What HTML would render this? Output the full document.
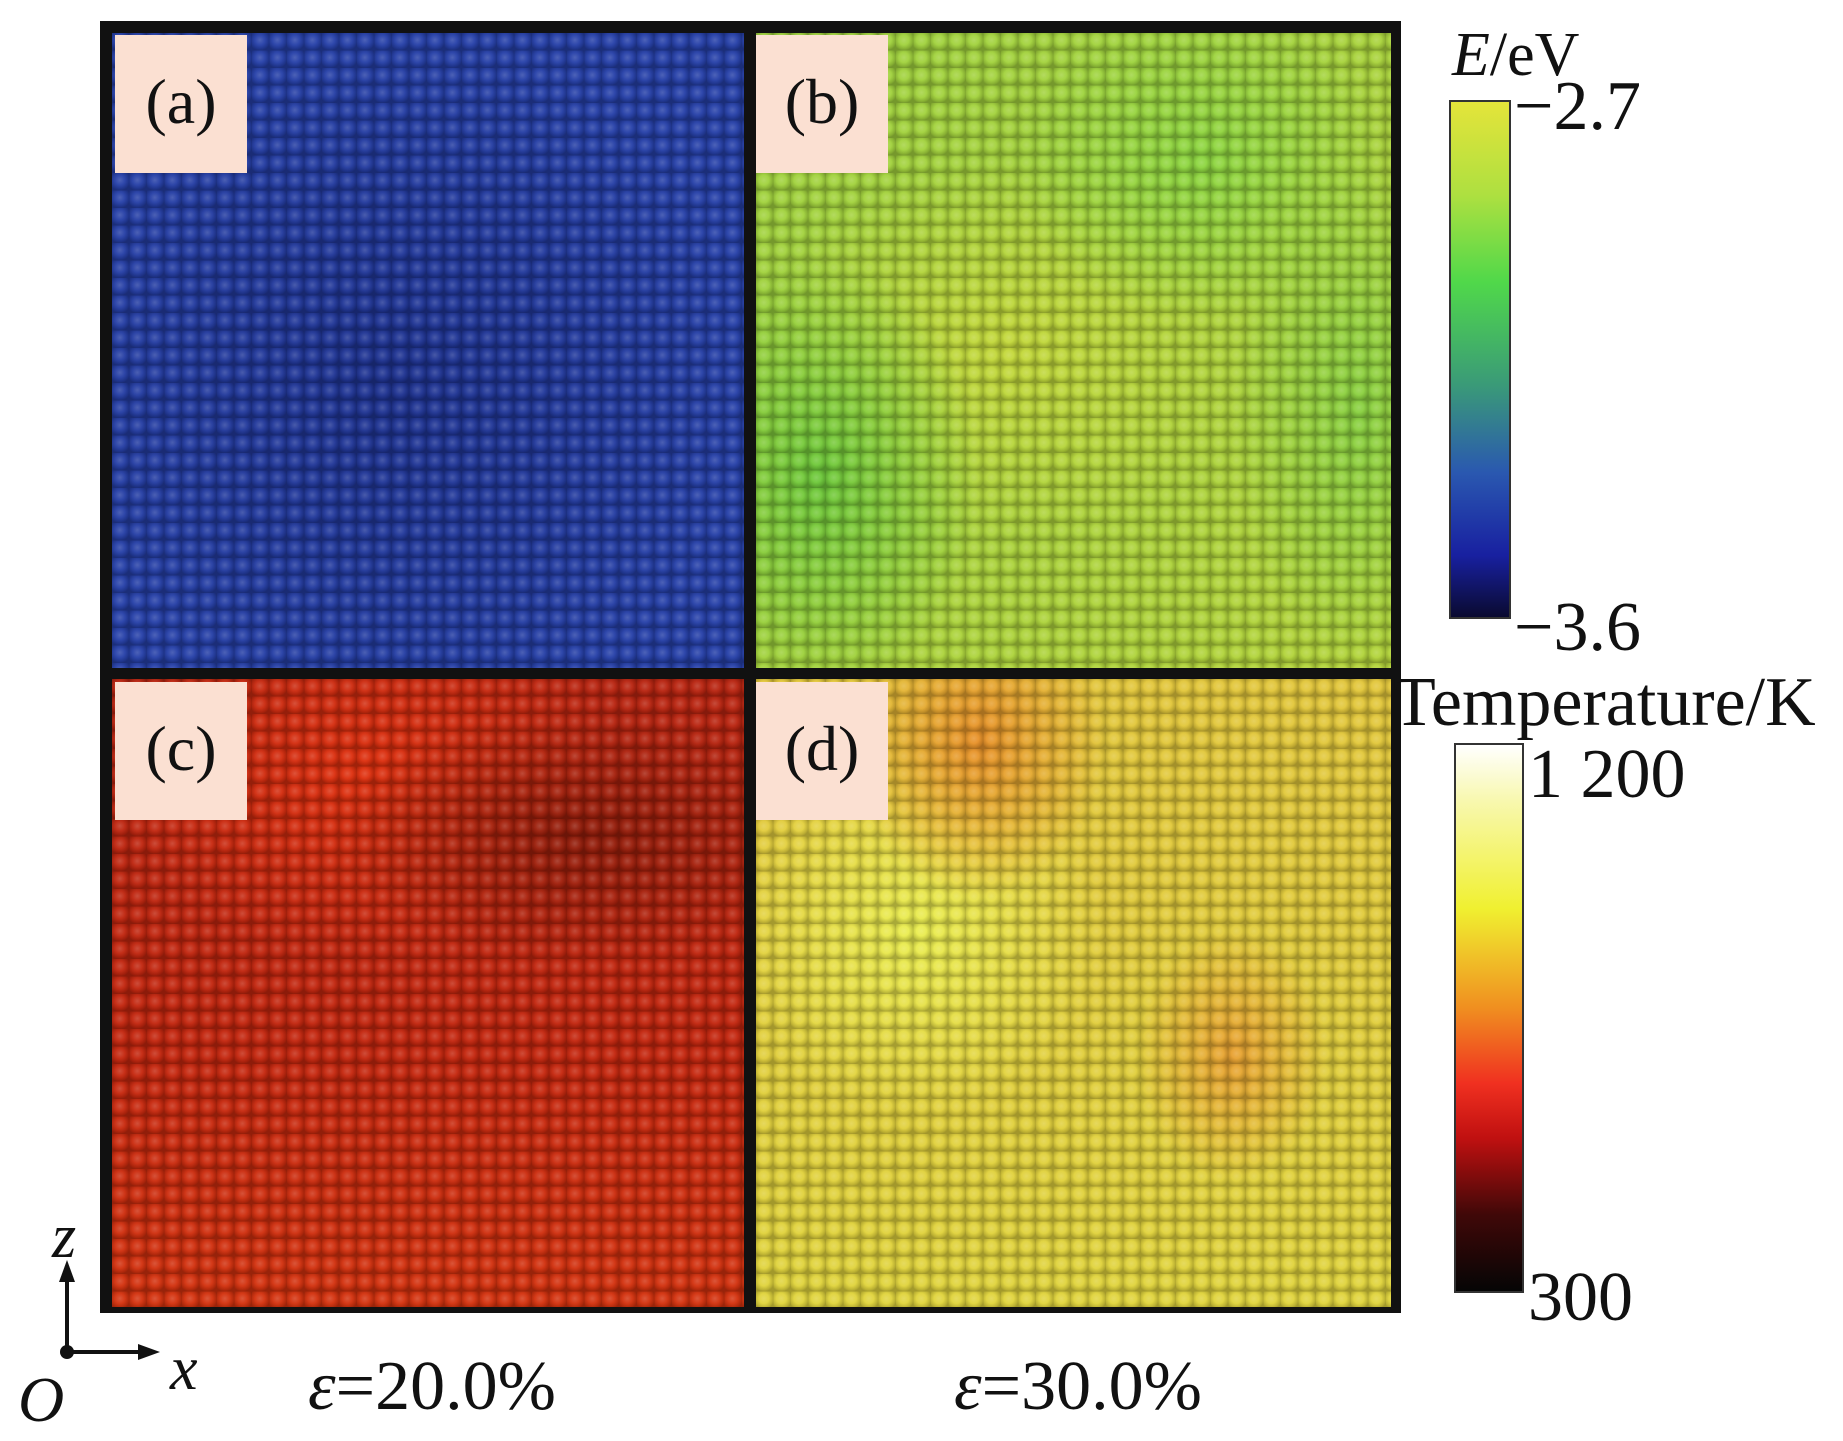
<!DOCTYPE html>
<html><head><meta charset="utf-8"><style>
body{margin:0;width:1843px;height:1441px;background:#fff;position:relative;overflow:hidden;font-family:"Liberation Serif",serif;}
.a{position:absolute}
.frame{left:100px;top:21px;width:1301px;height:1292px;background:#111;}
.p{position:absolute;overflow:hidden}
.tex{position:absolute;inset:0;background-image:radial-gradient(circle at 45% 40%,rgba(255,255,255,0.18) 0,rgba(255,255,255,0.04) 35%,rgba(0,0,0,0.16) 62%,rgba(0,0,0,0.28) 75%);background-size:17.5px 17.5px;}
.lab{position:absolute;background:#fbe0d2;width:132px;height:138px;font-size:64px;line-height:134px;text-align:center;color:#111;}
.t{position:absolute;font-size:70px;color:#111;white-space:nowrap;line-height:1}
</style></head><body>
<div class="a frame"></div>
<div class="p" style="left:112px;top:33px;width:632px;height:635px;background:radial-gradient(ellipse at 45% 55%,#1e3290,#2640a8 70%),#2440a4;"><div class="tex"></div></div>
<div class="p" style="left:756px;top:33px;width:635px;height:635px;background:radial-gradient(ellipse 25% 35% at 10% 70%,#6cc83a,transparent),radial-gradient(ellipse 30% 25% at 70% 20%,#8cd640,transparent),radial-gradient(ellipse 20% 40% at 95% 60%,#88d040,transparent),radial-gradient(ellipse 40% 30% at 40% 50%,#c4d83a,transparent),linear-gradient(135deg,#9ed23e,#b4d43a);"><div class="tex"></div></div>
<div class="p" style="left:112px;top:679px;width:632px;height:628px;background:radial-gradient(ellipse 40% 20% at 75% 25%,#901c0a,transparent),radial-gradient(ellipse 40% 30% at 40% 15%,#e0300e,transparent),linear-gradient(180deg,#b82410,#c4260e 60%,#d4320e);"><div class="tex"></div></div>
<div class="p" style="left:756px;top:679px;width:635px;height:628px;background:radial-gradient(ellipse 20% 25% at 35% 10%,#e89028,transparent),radial-gradient(ellipse 15% 20% at 75% 60%,#e8a030,transparent),radial-gradient(ellipse 30% 30% at 25% 40%,#eaee50,transparent),linear-gradient(180deg,#e2c63a,#e0d43c);"><div class="tex"></div></div>
<div class="lab" style="left:115px;top:35px">(a)</div>
<div class="lab" style="left:756px;top:35px">(b)</div>
<div class="lab" style="left:115px;top:682px">(c)</div>
<div class="lab" style="left:756px;top:682px">(d)</div>
<div class="a" style="left:1449px;top:100px;width:62px;height:519px;border:2px solid #333;box-sizing:border-box;background:linear-gradient(180deg,#e4e43a 0%,#aee040 18%,#50d84a 35%,#3a9a78 55%,#2a58b0 72%,#1820a0 88%,#0a0a30 100%);"></div>
<div class="a" style="left:1454px;top:743px;width:70px;height:550px;border:2px solid #333;box-sizing:border-box;background:linear-gradient(180deg,#ffffff 0%,#f8f8b0 10%,#f0f030 30%,#f09020 48%,#f03020 62%,#c01010 72%,#400808 86%,#050505 100%);"></div>
<div class="t" style="left:1452px;top:24px;font-size:62px"><i>E</i>/eV</div>
<div class="t" style="left:1514px;top:72px">−2.7</div>
<div class="t" style="left:1514px;top:593px">−3.6</div>
<div class="t" style="left:1393px;top:668px">Temperature/K</div>
<div class="t" style="left:1528px;top:740px">1 200</div>
<div class="t" style="left:1528px;top:1263px">300</div>
<div class="t" style="left:308px;top:1352px"><i>ε</i>=20.0%</div>
<div class="t" style="left:954px;top:1352px"><i>ε</i>=30.0%</div>
<svg class="a" style="left:0;top:1200px" width="200" height="241">
<line x1="67" y1="152" x2="67" y2="70" stroke="#111" stroke-width="4"/>
<polygon points="67,60 59,82 75,82" fill="#111"/>
<line x1="67" y1="152" x2="148" y2="152" stroke="#111" stroke-width="4"/>
<polygon points="160,152 138,144 138,160" fill="#111"/>
<circle cx="67" cy="152" r="7" fill="#111"/>
</svg>
<div class="t" style="left:52px;top:1206px;font-style:italic;font-size:62px">z</div>
<div class="t" style="left:170px;top:1338px;font-style:italic;font-size:62px">x</div>
<div class="t" style="left:18px;top:1368px;font-style:italic;font-size:64px">O</div>
</body></html>
